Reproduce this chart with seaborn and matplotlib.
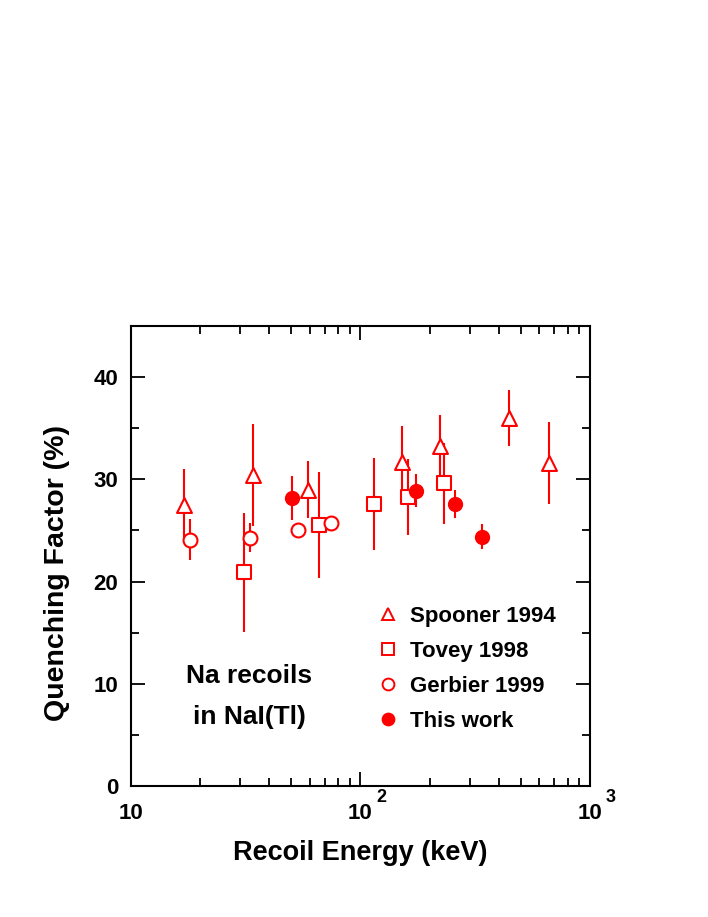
import numpy as np
import pandas as pd
import matplotlib
matplotlib.use("Agg")
import matplotlib.pyplot as plt
import matplotlib.transforms as mtransforms
import seaborn as sns
from matplotlib.ticker import FixedLocator, NullFormatter, MultipleLocator
from matplotlib.lines import Line2D

# ---------------- data ----------------
spooner_E = [17.1, 34.1, 59.3, 152, 221, 444, 661]
spooner_Q = [27.5, 30.4, 29.0, 31.7, 33.3, 36.0, 31.6]
spooner_err = [3.5, 5.0, 2.8, 3.5, 3.0, 2.7, 4.0]

tovey_E = [31.2, 66.1, 114.5, 161.5, 231]
tovey_Q = [20.9, 25.5, 27.6, 28.3, 29.6]
tovey_err = [5.8, 5.2, 4.5, 3.7, 4.0]

gerbier_E = [18.1, 33.1, 53.2, 74.4]
gerbier_Q = [24.1, 24.3, 25.0, 25.7]
gerbier_err = [2.0, 1.4, 0.7, 0.75]

this_E = [50.3, 174.5, 258, 337]
this_Q = [28.2, 28.9, 27.6, 24.4]
this_err = [2.15, 1.6, 1.4, 1.2]

series_names = ["Spooner 1994", "Tovey 1998", "Gerbier 1999", "This work"]
x_label = "Recoil Energy (keV)"
y_label = "Quenching Factor (%)"
note_lines = ["Na recoils", "in NaI(Tl)"]
x_ticks = [10, 100, 1000]
x_tick_base = ["10", "10", "10"]
x_tick_exp = ["", "2", "3"]

# ---------------- style ----------------
sns.set_theme(style="ticks")
plt.rcParams["font.family"] = ["Liberation Sans", "DejaVu Sans"]
plt.rcParams["font.weight"] = "bold"
for key in ("text.color", "axes.labelcolor", "xtick.color", "ytick.color",
            "axes.edgecolor"):
    plt.rcParams[key] = "black"

RED = "#ff0000"

df = pd.concat([
    pd.DataFrame({"E": spooner_E, "Q": spooner_Q, "err": spooner_err, "src": series_names[0]}),
    pd.DataFrame({"E": tovey_E, "Q": tovey_Q, "err": tovey_err, "src": series_names[1]}),
    pd.DataFrame({"E": gerbier_E, "Q": gerbier_Q, "err": gerbier_err, "src": series_names[2]}),
    pd.DataFrame({"E": this_E, "Q": this_Q, "err": this_err, "src": series_names[3]}),
], ignore_index=True)

fig = plt.figure(figsize=(7.08, 9.17), dpi=100)
ax = fig.add_axes([0.185, 0.1429, 0.6483, 0.5016])
ax.set_xscale("log")

# error bars
for name in series_names:
    sub = df[df.src == name]
    ax.errorbar(sub.E, sub.Q, yerr=sub.err, fmt="none", ecolor=RED,
                elinewidth=1.5, capsize=0, zorder=2)

markers = {"Spooner 1994": "^", "Tovey 1998": "s", "Gerbier 1999": "o", "This work": "o"}
sizes = {"Spooner 1994": 115, "Tovey 1998": 105, "Gerbier 1999": 100, "This work": 90}
for name in series_names:
    sub = df[df.src == name]
    filled = name == "This work"
    sns.scatterplot(data=sub, x="E", y="Q", ax=ax, marker=markers[name],
                    s=sizes[name], color=RED if filled else "white",
                    edgecolor=RED, linewidth=1.5, zorder=3, legend=False)

ax.set_xlim(10, 1000)
ax.set_ylim(0, 45)

# ticks
ax.xaxis.set_major_locator(FixedLocator(x_ticks))
ax.set_xticklabels(x_tick_base)
minor = [m * d for d in (10, 100) for m in range(2, 10)]
ax.xaxis.set_minor_locator(FixedLocator(minor))
ax.xaxis.set_minor_formatter(NullFormatter())
ax.yaxis.set_major_locator(MultipleLocator(10))
ax.yaxis.set_minor_locator(MultipleLocator(5))
ax.tick_params(which="both", direction="in", top=True, right=True,
               color="black", width=1.3)
ax.tick_params(which="major", length=10, labelsize=16)
ax.tick_params(axis="x", which="major", pad=12)
ax.tick_params(axis="y", which="major", pad=9)
ax.tick_params(which="minor", length=6)
for lab in ax.get_xticklabels() + ax.get_yticklabels():
    lab.set_fontweight("bold")
for sp in ax.spines.values():
    sp.set_linewidth(1.5)
    sp.set_color("black")
    sp.set_visible(True)

# exponents for the decade labels
trans = mtransforms.blended_transform_factory(ax.transData, ax.transAxes)
for xv, ex in zip(x_ticks, x_tick_exp):
    if ex:
        t = trans + mtransforms.ScaledTranslation(16 / 100, -12 / 100, fig.dpi_scale_trans)
        ax.text(xv, 0, ex, transform=t, ha="left", va="center",
                fontsize=13, fontweight="bold", clip_on=False)

ax.set_xlabel(x_label, fontsize=19.5, fontweight="bold", labelpad=12)
ax.set_ylabel(y_label, fontsize=20.5, fontweight="bold")
ax.yaxis.set_label_coords(-0.133, 0.463)

# legend
handles = [
    Line2D([], [], marker="^", ls="none", mfc="white", mec=RED, mew=1.4, ms=9),
    Line2D([], [], marker="s", ls="none", mfc="white", mec=RED, mew=1.4, ms=8.5),
    Line2D([], [], marker="o", ls="none", mfc="white", mec=RED, mew=1.4, ms=8.5),
    Line2D([], [], marker="o", ls="none", mfc=RED, mec=RED, mew=1.4, ms=8.5),
]
leg = ax.legend(handles, series_names, loc="upper left",
                bbox_to_anchor=(0.504, 0.411), frameon=False,
                prop={"size": 16, "weight": "bold"},
                handletextpad=0.25, labelspacing=0.63, handlelength=1.5,
                borderaxespad=0)

ax.text(0.258, 0.239, note_lines[0], transform=ax.transAxes, ha="center",
        va="center", fontsize=19, fontweight="bold")
ax.text(0.258, 0.151, note_lines[1], transform=ax.transAxes, ha="center",
        va="center", fontsize=19, fontweight="bold")

fig.savefig("out.png", dpi=100)
